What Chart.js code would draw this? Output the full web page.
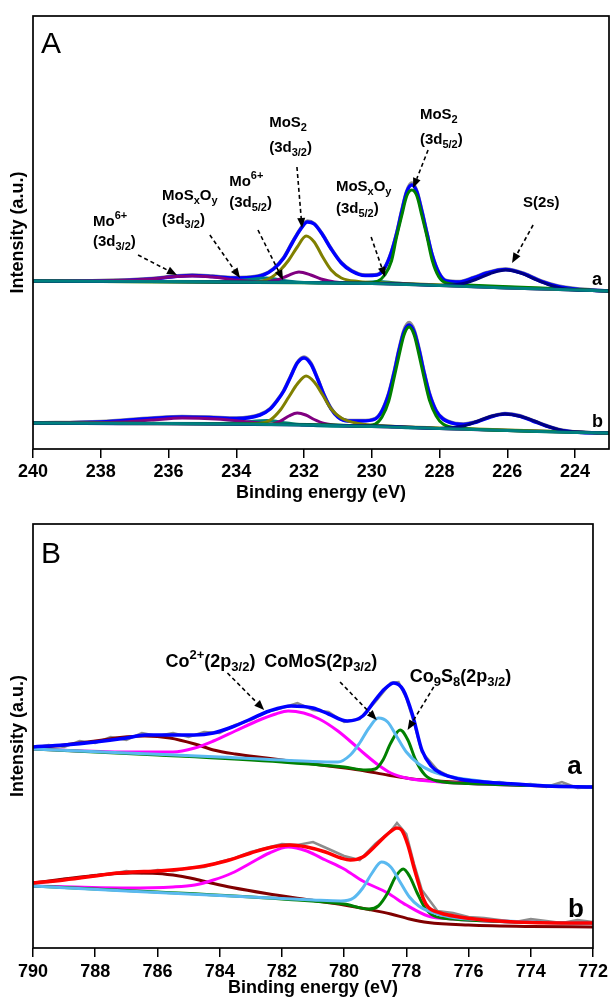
<!DOCTYPE html>
<html>
<head>
<meta charset="utf-8">
<script src="https://cdn.jsdelivr.net/npm/chart.js@4.4.1/dist/chart.umd.min.js"></script>
<style>
  html, body { margin: 0; padding: 0; background: #fff; }
  #wrap { position: relative; width: 612px; height: 1000px; }
  canvas { position: absolute; left: 0; }
  #chartA { top: 0; }
  #chartB { top: 500px; }
</style>
</head>
<body>
<div id="wrap">
  <canvas id="chartA" width="612" height="510"></canvas>
  <canvas id="chartB" width="612" height="500"></canvas>
</div>
<script>
const FONT = '"Liberation Sans", Arial, Helvetica, sans-serif';

// ---- panel A : Mo 3d / S 2s, [binding energy, intensity a.u.] ----
const ticksA = [240, 238, 236, 234, 232, 230, 228, 226, 224];

// sample a
const aRaw = [[240,168],[238,168.5],[236.5,170.5],[235.8,173],[235.3,174],[234.7,173],[234.1,171.5],[233.6,172],[233.2,174.5],[232.9,180.5],[232.6,191.5],[232.35,206.5],[232.1,220.5],[231.9,228],[231.7,225.5],[231.45,214.5],[231.2,200.5],[230.9,186.5],[230.6,178.5],[230.2,174],[229.85,174.5],[229.62,181.5],[229.42,197.5],[229.27,215.5],[229.12,238],[228.97,258],[228.82,266],[228.67,258],[228.52,238],[228.37,215.5],[228.22,194.5],[228.02,176.5],[227.8,168.5],[227.4,167.5],[227,171.5],[226.6,176.5],[226.05,180],[225.5,175.5],[225,168],[224.5,163],[224,160.5],[223,158]];
const aEnvelope = [[240,168],[238,168],[236.5,170],[235.8,172.5],[235.3,173.5],[234.7,172.5],[234.1,171],[233.6,171.5],[233.2,174],[232.9,180],[232.6,191],[232.35,206],[232.1,220],[231.9,227],[231.7,225],[231.45,214],[231.2,200],[230.9,186],[230.6,178],[230.2,173.5],[229.85,174],[229.62,181],[229.42,197],[229.27,215],[229.12,237],[228.97,257],[228.82,264],[228.67,257],[228.52,237],[228.37,215],[228.22,194],[228.02,176],[227.8,168],[227.4,167],[227,171],[226.6,176],[226.05,179.5],[225.5,175],[225,167.5],[224.5,162.5],[224,160],[223,158]];
const aMoS2_32 = [[240,168],[234,167],[233.5,167],[233,171],[232.7,179],[232.45,189],[232.2,202],[231.94,213],[231.7,207],[231.45,192],[231.2,179],[230.9,171],[230.4,167.5],[229.5,166],[227,163],[223,158]];
const aMoS2_52 = [[240,168],[231,166],[230.2,166],[229.82,168],[229.62,174],[229.42,188],[229.27,212],[229.12,233],[228.97,253],[228.82,259],[228.67,253],[228.52,233],[228.37,212],[228.22,189],[228.02,172],[227.8,166],[227.2,164],[225,161],[223,158]];
const aMo6 = [[240,168],[237.5,168.5],[236.5,170],[235.8,172.5],[235.3,173],[234.7,172],[234,169],[233.3,167],[232.8,169],[232.5,173],[232.15,177],[231.8,174],[231.5,170],[231.1,167],[230,165.5],[228,163.5],[226,161],[223,158]];
const aMoSxOy = [[240,168],[235,167.5],[234.5,167.5],[233.8,169],[233.1,171],[232.5,168],[232,166.5],[231,166],[230.4,166],[229.8,167.5],[229.3,166],[228.5,164.5],[226,161],[223,158]];
const aS2s = [[240,168],[229,165],[228,163.5],[227.3,165.5],[226.9,170],[226.5,175.5],[226.05,179],[225.6,176],[225.2,170],[224.8,164.5],[224.3,160],[223.5,158.5],[223,158]];
const aBackground = [[240,168],[236,167.5],[234,167],[232,166.5],[230,165.5],[228,163.5],[226,161],[224,159],[223,158]];

// sample b
const bRaw = [[240,26],[238,27.5],[236.5,31],[235.6,32.5],[234.8,32],[234,31],[233.3,34.5],[233,40.5],[232.8,48.5],[232.6,58.5],[232.4,72.5],[232.2,86.5],[232,92],[231.8,86],[231.6,70.5],[231.4,53.5],[231.2,40.5],[231,32.5],[230.7,28.5],[230.3,28.5],[229.9,30.5],[229.7,38.5],[229.5,56],[229.35,76],[229.2,99.5],[229.05,119],[228.9,126.5],[228.75,119],[228.6,99.5],[228.45,76],[228.3,56],[228.1,38.5],[227.9,30.5],[227.5,25.5],[227.3,25],[226.9,27.5],[226.5,32.5],[226.07,35.5],[225.65,33.5],[225.25,28.5],[224.85,23.5],[224.4,19],[223.8,16.5],[223,16]];
const bEnvelope = [[240,26],[238,27],[236.5,30.5],[235.6,32],[234.8,31.5],[234,30.5],[233.3,34],[233,40],[232.8,48],[232.6,58],[232.4,72],[232.2,86],[232,91],[231.8,85],[231.6,70],[231.4,53],[231.2,40],[231,32],[230.7,28],[230.3,28],[229.9,30],[229.7,38],[229.5,55],[229.35,75],[229.2,98],[229.05,117],[228.9,124],[228.75,117],[228.6,98],[228.45,75],[228.3,55],[228.1,38],[227.9,30],[227.5,25],[227.3,24.5],[226.9,27],[226.5,32],[226.07,35],[225.65,33],[225.25,28],[224.85,23],[224.4,18.5],[223.8,16.5],[223,16]];
const bMoS2_32 = [[240,26],[233.5,25],[233,29],[232.7,39],[232.45,52],[232.2,65],[231.94,73],[231.7,67],[231.45,54],[231.2,40],[230.9,31],[230.4,25.5],[229.5,23],[228,21],[226,19],[223,16]];
const bMoS2_52 = [[240,26],[231,24],[230.3,23],[229.9,25],[229.7,32],[229.5,48],[229.35,70],[229.2,93],[229.05,114],[228.9,122],[228.75,114],[228.6,93],[228.45,70],[228.3,49],[228.1,33],[227.9,25],[227.4,21],[226,18.5],[223,16]];
const bMo6 = [[240,26],[237.5,27],[236.5,29],[235.6,31],[234.6,30],[233.6,27],[233,25],[232.7,28],[232.45,33],[232.2,36],[231.95,34],[231.7,29.5],[231.4,25.5],[231,23.5],[230,22.5],[228,20.5],[226,18.5],[223,16]];
const bMoSxOy = [[240,26],[234.5,25.5],[233.8,27],[233.1,28.5],[232.5,26],[232,24],[230,22.5],[229.8,23.5],[229.4,22],[228,20.5],[223,16]];
const bS2s = [[240,26],[229,22],[228,20.5],[227.3,23],[226.9,27.5],[226.5,32.5],[226.07,35],[225.6,32.5],[225.2,28],[224.8,22.5],[224.3,18],[223.5,16.5],[223,16]];
const bBackground = [[240,26],[236,25.5],[234,25],[232,24],[230,22.5],[228,20.5],[226,18.5],[224,16.5],[223,16]];

// ---- panel B : Co 2p3/2 ----
const ticksB = [790, 788, 786, 784, 782, 780, 778, 776, 774, 772];

const coA_raw = [[790,200],[789.5,203],[789,201],[788.5,207],[788,205],[787.5,211],[787,208],[786.5,215],[786,212],[785.5,215],[785,211],[784.5,216],[784,215],[783.5,223],[783,228],[782.5,236],[782,240],[781.5,245],[781,238],[780.5,236],[780,226],[779.5,229],[779,246],[778.5,265],[778.25,266],[778,250],[777.75,225],[777.5,196],[777,178],[776.5,170],[776,168],[775.5,165],[775,166],[774.5,163],[774,164],[773.5,161],[773,166],[772.5,160],[772,161]];
const coA_envelope = [[790,201],[789,203],[788,206],[787,210],[786.4,213],[785.5,213],[784.8,213],[784.2,215],[783.6,221],[783,229],[782.4,237],[781.7,242],[781,240],[780.5,234],[779.9,227],[779.4,232],[779,248],[778.7,259],[778.4,265],[778.1,258],[777.8,233],[777.5,198],[777.2,182],[776.9,175],[776.3,169],[775.5,166],[774.5,164],[773.5,162],[772,161]];
const coA_co2 = [[790,199],[787,196],[785.5,196],[784.8,200],[784.2,207],[783.5,217],[782.8,227],[782.2,234],[781.8,237],[781.3,235],[780.8,229],[780.2,217],[779.7,204],[779.3,193],[778.9,183],[778.5,175],[778,170],[777.3,167],[776,164.5],[774,162.5],[772,161]];
const coA_comos = [[790,199],[787,195],[784,191],[781,186.5],[780.2,186],[779.8,193],[779.5,205],[779.2,220],[778.9,230],[778.6,226],[778.3,211],[778,196],[777.6,184],[777.2,177],[776.5,171],[775.5,166.5],[774,163],[772,161]];
const coA_co9s8 = [[790,199],[786,193],[782,186],[780,181],[779.3,178],[779,179],[778.75,188],[778.5,205],[778.2,218],[777.95,208],[777.7,188],[777.4,173],[777,167],[776,164.5],[774,162.5],[772,161]];
const coA_sat = [[790,200],[789,203],[788,207],[787.2,210.5],[786.4,212],[785.6,210],[784.8,204],[784.2,198],[783.5,194],[782.5,190],[781.5,186],[780.5,182],[779.5,178],[778.6,173],[777.8,169],[777,167],[775.5,164.5],[774,162.5],[772,161]];

const coB_raw = [[790,65],[789.5,66],[789,69],[788.5,70],[788,73],[787.5,74],[787,77],[786.5,75],[786,78],[785.5,77],[785,80],[784.5,81],[784,86],[783.5,90],[783,96],[782.5,100],[782,104],[781.5,103],[781,106],[780.5,99],[780,92],[779.5,88],[779,104],[778.5,117],[778.3,125],[778,114],[777.75,84],[777.5,58],[777,37],[776.5,35],[776,31],[775.5,30],[775,28],[774.5,26],[774,29],[773.5,27],[773,25],[772.5,28],[772,26]];
const coB_envelope = [[790,65],[789,68],[788,72],[787.3,75],[786.8,76],[786,77],[785.2,79],[784.5,82],[783.8,87],[783,95],[782.3,101],[781.75,103],[781.2,101],[780.6,96],[780.1,90],[779.8,88],[779.4,91],[779,102],[778.6,114],[778.3,120],[778.15,118],[777.95,103],[777.75,80],[777.6,64],[777.45,49],[777.3,41],[776.9,35],[776.3,31],[775.5,28],[774.5,26],[773,25],[772,25]];
const coB_co2 = [[790,62],[787,60],[785.5,61],[784.8,63],[784.2,68],[783.6,75],[783,85],[782.4,95],[781.8,101],[781.2,97],[780.6,88],[780,79],[779.8,75],[779.4,67],[778.6,55],[778,43],[777.3,32],[776.5,29],[775,26.5],[772,25]];
const coB_comos = [[790,62],[787,57],[784,52.5],[781,48],[780.1,47],[779.7,50],[779.4,60],[779.1,75],[778.8,86],[778.5,81],[778.2,66],[777.9,51],[777.6,42],[777.2,36],[776.6,31],[775.5,28],[774,26],[772,25]];
const coB_co9s8 = [[790,62],[786,56],[782,49],[780,44],[779.2,39],[778.9,42],[778.6,55],[778.35,71],[778.1,79],[777.9,72],[777.65,55],[777.4,40],[777.1,32],[776.5,29],[775,26.5],[772,25]];
const coB_sat = [[790,65],[789,69],[788,72.5],[787.3,74.5],[786.8,75],[786,74.5],[785.3,72],[784.8,69],[784.2,64.5],[783.6,60.5],[782.5,54.5],[781.1,48],[780,43],[779.2,38.5],[778.5,34],[777.9,29],[777.3,25.5],[776,23],[774,21.5],[772,21]];

// ---- annotations ----
const notesA = [
  { text: 'Mo^{6+}', e: 238.23, v: 227 },
  { text: '(3d_{3/2})', e: 238.23, v: 207 },
  { text: 'MoS_{x}O_{y}', e: 236.19, v: 253 },
  { text: '(3d_{3/2})', e: 236.19, v: 229 },
  { text: 'Mo^{6+}', e: 234.21, v: 267 },
  { text: '(3d_{5/2})', e: 234.21, v: 246 },
  { text: 'MoS_{2}', e: 233.03, v: 326 },
  { text: '(3d_{3/2})', e: 233.03, v: 301 },
  { text: 'MoS_{x}O_{y}', e: 231.06, v: 262 },
  { text: '(3d_{5/2})', e: 231.06, v: 240 },
  { text: 'MoS_{2}', e: 228.58, v: 334 },
  { text: '(3d_{5/2})', e: 228.58, v: 309 },
  { text: 'S(2s)', e: 225.54, v: 246 }
];
const arrowsA = [
  [236.90, 194, 235.75, 174],
  [234.78, 214, 233.89, 171],
  [233.36, 219, 232.62, 169],
  [232.21, 282, 232.06, 221],
  [230.02, 212, 229.61, 172],
  [228.34, 299, 228.78, 261],
  [225.24, 224, 225.86, 186]
];
const sampleTagsA = [{ text: 'a', e: 223.5, v: 169 }, { text: 'b', e: 223.5, v: 27 }];

const notesB = [
  { text: 'Co^{2+}(2p_{3/2})', e: 785.74, v: 286 },
  { text: 'CoMoS(2p_{3/2})', e: 782.57, v: 286 },
  { text: 'Co_{9}S_{8}(2p_{3/2})', e: 777.89, v: 271 }
];
const arrowsB = [
  [783.75, 275, 782.57, 238],
  [780.13, 266, 778.95, 228],
  [777.12, 261, 777.96, 218]
];
const sampleTagsB = [{ text: 'a', e: 772.83, v: 181 }, { text: 'b', e: 772.80, v: 38 }];

// ---- helpers ----
const line = (pts, color, width, raw) => ({
  data: pts.map(p => ({ x: p[0], y: p[1] })),
  borderColor: color,
  borderWidth: width,
  pointRadius: 0,
  fill: false,
  tension: raw ? 0 : 0.4,
  cubicInterpolationMode: raw ? 'default' : 'monotone'
});

function drawRich(ctx, x, y, text, size) {
  const parts = [];
  const re = /([_^])\{([^}]*)\}/g;
  let last = 0, m;
  while ((m = re.exec(text)) !== null) {
    if (m.index > last) parts.push({ t: text.slice(last, m.index) });
    parts.push({ t: m[2], sub: m[1] === '_', sup: m[1] === '^' });
    last = re.lastIndex;
  }
  if (last < text.length) parts.push({ t: text.slice(last) });
  let cx = x;
  parts.forEach(p => {
    const s = (p.sub || p.sup) ? Math.round(size * 0.72) : size;
    ctx.font = 'bold ' + s + 'px ' + FONT;
    const dy = p.sub ? size * 0.32 : p.sup ? -size * 0.38 : 0;
    ctx.fillText(p.t, cx, y + dy);
    cx += ctx.measureText(p.t).width;
  });
}

function drawArrow(ctx, x1, y1, x2, y2) {
  const ang = Math.atan2(y2 - y1, x2 - x1);
  const head = 10, half = 4;
  const bx = x2 - head * Math.cos(ang), by = y2 - head * Math.sin(ang);
  ctx.save();
  ctx.strokeStyle = '#000';
  ctx.lineWidth = 1.6;
  ctx.setLineDash([4, 3]);
  ctx.beginPath();
  ctx.moveTo(x1, y1);
  ctx.lineTo(bx, by);
  ctx.stroke();
  ctx.setLineDash([]);
  ctx.fillStyle = '#000';
  ctx.beginPath();
  ctx.moveTo(x2, y2);
  ctx.lineTo(bx + half * Math.sin(ang), by - half * Math.cos(ang));
  ctx.lineTo(bx - half * Math.sin(ang), by + half * Math.cos(ang));
  ctx.closePath();
  ctx.fill();
  ctx.restore();
}

const framePlugin = {
  id: 'frame',
  afterDatasetsDraw(chart) {
    const { ctx, chartArea: a } = chart;
    ctx.save();
    ctx.strokeStyle = '#000';
    ctx.lineWidth = 1.7;
    ctx.strokeRect(a.left, a.top, a.right - a.left, a.bottom - a.top);
    ctx.restore();
  }
};

const notesPlugin = {
  id: 'notes',
  afterDraw(chart, args, opts) {
    const { ctx, chartArea: a } = chart;
    const xs = chart.scales.x, ys = chart.scales.y;
    ctx.save();
    ctx.fillStyle = '#000';
    ctx.textAlign = 'left';
    ctx.font = '30px ' + FONT;
    ctx.textBaseline = 'alphabetic';
    ctx.fillText(opts.panel, a.left + 8, a.top + opts.panelDy);
    ctx.textBaseline = 'middle';
    opts.labels.forEach(n => drawRich(ctx, xs.getPixelForValue(n.e), ys.getPixelForValue(n.v), n.text, opts.size));
    opts.tags.forEach(n => drawRich(ctx, xs.getPixelForValue(n.e), ys.getPixelForValue(n.v), n.text, opts.tagSize));
    opts.arrows.forEach(r => drawArrow(ctx,
      xs.getPixelForValue(r[0]), ys.getPixelForValue(r[1]),
      xs.getPixelForValue(r[2]), ys.getPixelForValue(r[3])));
    ctx.restore();
  }
};

function scales(min, max, ticks, yMax, axisH, tickPad, titlePad) {
  const bold = { family: FONT, size: 18, weight: 'bold' };
  return {
    x: {
      type: 'linear', reverse: true, min: min, max: max,
      afterBuildTicks: s => { s.ticks = ticks.map(v => ({ value: v })); },
      afterFit: s => { s.height = axisH; },
      ticks: { color: '#000', font: bold, padding: tickPad, maxRotation: 0, autoSkip: false },
      grid: { drawOnChartArea: false, drawTicks: true, tickLength: 9, color: '#000', lineWidth: 1.5 },
      border: { display: false },
      title: { display: true, text: 'Binding energy (eV)', color: '#000', font: bold, padding: { top: 0, bottom: titlePad } }
    },
    y: {
      min: 0, max: yMax,
      ticks: { display: false },
      grid: { display: false },
      border: { display: false },
      afterFit: s => { s.width = 33; },
      title: { display: true, text: 'Intensity (a.u.)', color: '#000', font: bold, padding: { top: 7, bottom: 0 } }
    }
  };
}

const common = {
  responsive: false,
  animation: false,
  devicePixelRatio: 1,
  events: []
};

// ---- panel A ----
new Chart(document.getElementById('chartA'), {
  type: 'line',
  data: {
    datasets: [
      line(aBackground, '#008080', 3),
      line(aS2s, '#000080', 3),
      line(aMoS2_52, '#008000', 3),
      line(aMoS2_32, '#808000', 3),
      line(aMo6, '#800080', 3),
      line(aMoSxOy, '#008080', 3),
      line(aEnvelope, '#0000ff', 3.5),
      line(aRaw, '#8c8c8c', 3.5),
      line(bBackground, '#008080', 3),
      line(bS2s, '#000080', 3),
      line(bMoS2_52, '#008000', 3),
      line(bMoS2_32, '#808000', 3),
      line(bMo6, '#800080', 3),
      line(bMoSxOy, '#008080', 3),
      line(bEnvelope, '#0000ff', 3.5),
      line(bRaw, '#8c8c8c', 3.5)
    ]
  },
  options: Object.assign({}, common, {
    layout: { padding: { top: 16, right: 3, left: 0, bottom: 0 } },
    scales: scales(223, 240, ticksA, 433, 61, 3, 6),
    plugins: {
      legend: { display: false },
      tooltip: { enabled: false },
      notes: { panel: 'A', panelDy: 37, labels: notesA, tags: sampleTagsA, arrows: arrowsA, size: 15, tagSize: 18 }
    }
  }),
  plugins: [framePlugin, notesPlugin]
});

// ---- panel B ----
new Chart(document.getElementById('chartB'), {
  type: 'line',
  data: {
    datasets: [
      line(coA_envelope, '#0000ff', 3.5),
      line(coA_comos, '#5ab9f0', 3),
      line(coA_co9s8, '#008000', 3),
      line(coA_co2, '#ff00ff', 3),
      line(coA_sat, '#800000', 3),
      line(coA_raw, '#8c8c8c', 2.5, true),
      line(coB_envelope, '#ff0000', 3.5),
      line(coB_comos, '#5ab9f0', 3),
      line(coB_co9s8, '#008000', 3),
      line(coB_co2, '#ff00ff', 3),
      line(coB_sat, '#800000', 3),
      line(coB_raw, '#8c8c8c', 2.5, true)
    ]
  },
  options: Object.assign({}, common, {
    layout: { padding: { top: 24, right: 17, left: 0, bottom: 0 } },
    scales: scales(772, 790, ticksB, 424, 52, 4, 1),
    plugins: {
      legend: { display: false },
      tooltip: { enabled: false },
      notes: { panel: 'B', panelDy: 39, labels: notesB, tags: sampleTagsB, arrows: arrowsB, size: 18, tagSize: 26 }
    }
  }),
  plugins: [framePlugin, notesPlugin]
});
</script>
</body>
</html>
